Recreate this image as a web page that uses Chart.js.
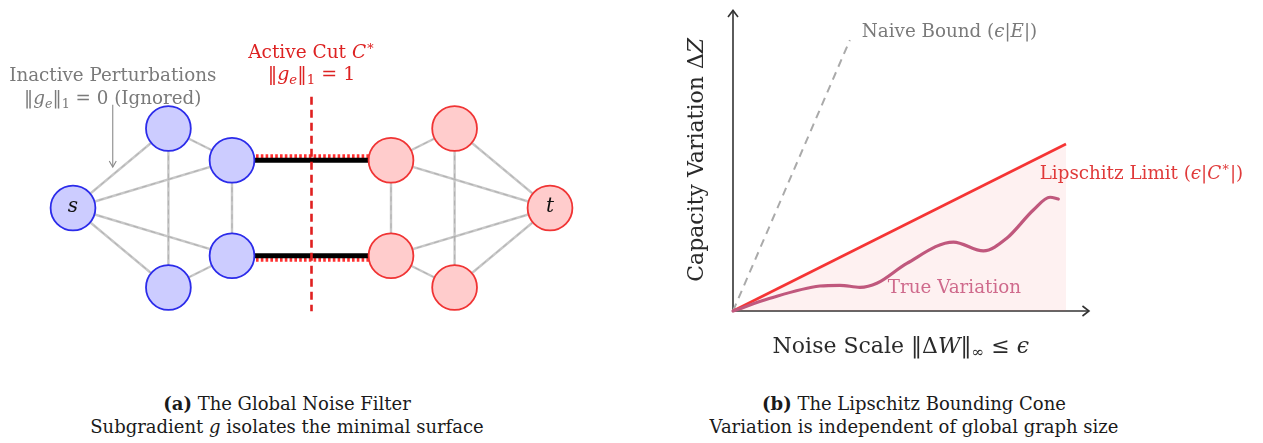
<!DOCTYPE html>
<html>
<head>
<meta charset="utf-8">
<title>Noise filter and Lipschitz cone</title>
<script src="https://cdn.jsdelivr.net/npm/chart.js@4.4.1/dist/chart.umd.min.js"></script>
<style>
  html, body { margin: 0; padding: 0; background: #fff; width: 1263px; height: 443px; overflow: hidden; }
  .panel { position: absolute; top: 0; }
  #panelA { left: 0; width: 620px; height: 380px; }
  #panelB { left: 640px; width: 623px; height: 380px; }
  .cap { position: absolute; top: 392px; font-family: "DejaVu Serif", serif; font-size: 18px;
         color: #1a1a1a; text-align: center; line-height: 23px; white-space: nowrap; }
</style>
</head>
<body>
<div class="panel" id="panelA"><canvas id="graphA" width="620" height="380"></canvas></div>
<div class="panel" id="panelB"><canvas id="coneB" width="623" height="380"></canvas></div>
<div class="cap" style="left:0; width:574px;"><b>(a)</b> The Global Noise Filter<br>Subgradient <i>g</i> isolates the minimal surface</div>
<div class="cap" style="left:614px; width:600px;"><b>(b)</b> The Lipschitz Bounding Cone<br>Variation is independent of global graph size</div>

<script>
// ---------- (a) flow network: nodes, inactive edges, cut edges ----------
const nodeIds    = ['s', 'u1', 'u2', 'l2', 'l1', 'v2', 'v1', 'w2', 'w1', 't'];
const nodeX      = [0, 2.4, 4, 4, 2.4, 8, 9.6, 8, 9.6, 12];
const nodeY      = [0, 2, 1.2, -1.2, -2, 1.2, 2, -1.2, -2, 0];
const nodeSide   = ['S', 'S', 'S', 'S', 'S', 'T', 'T', 'T', 'T', 'T'];
const nodeLabels = ['s', '', '', '', '', '', '', '', '', 't'];
const inactiveEdges = [
  ['s', 'u1'], ['s', 'u2'], ['s', 'l2'], ['s', 'l1'],
  ['u1', 'u2'], ['u1', 'l1'], ['u2', 'l2'], ['l2', 'l1'],
  ['v2', 'v1'], ['v2', 't'], ['w2', 't'], ['w2', 'w1'],
  ['v1', 't'], ['w1', 't'], ['v1', 'w1'], ['v2', 'w2']
];
const cutEdges = [['u2', 'v2'], ['l2', 'w2']];
const cutLineX = 6;
const cutLineY = [2.8, -2.6];
const arrowFrom = { x: 1.0, y: 2.6 };
const arrowTo   = { x: 1.0, y: 1.03 };

// ---------- (b) capacity variation vs noise scale ----------
const lipschitzEps = [0, 1];
const lipschitzDZ  = [0, 2];
const naiveEps     = [0, 0.351];
const naiveDZ      = [0, 3.245];
const trueEps = [0, 0.111, 0.261, 0.321, 0.381, 0.432, 0.522, 0.662, 0.752, 0.822, 0.902, 0.952, 0.977];
const trueDZ  = [0, 0.152, 0.299, 0.308, 0.284, 0.332, 0.571, 0.826, 0.719, 0.871, 1.210, 1.362, 1.341];
const axisEndEps = 1.069;
const axisEndDZ  = 3.6;

const FONT = '"DejaVu Serif", "DejaVu Sans", serif';

// text made of runs: {t, i (italic), b (bold), sub, sup}
function richWidth(ctx, runs, size) {
  let w = 0;
  runs.forEach(r => {
    const s = (r.sub || r.sup) ? size * 0.7 : size;
    ctx.font = (r.i ? 'italic ' : '') + (r.b ? 'bold ' : '') + s + 'px ' + FONT;
    w += ctx.measureText(r.t).width;
  });
  return w;
}
function drawRich(ctx, runs, x, y, size, color, align) {
  const w = richWidth(ctx, runs, size);
  let cx = align === 'left' ? x : x - w / 2;
  ctx.save();
  ctx.fillStyle = color;
  ctx.textBaseline = 'middle';
  ctx.textAlign = 'left';
  runs.forEach(r => {
    const s = (r.sub || r.sup) ? size * 0.7 : size;
    ctx.font = (r.i ? 'italic ' : '') + (r.b ? 'bold ' : '') + s + 'px ' + FONT;
    const dy = r.sub ? size * 0.28 : (r.sup ? -size * 0.36 : 0);
    ctx.fillText(r.t, cx, y + dy);
    cx += ctx.measureText(r.t).width;
  });
  ctx.restore();
}
function chevron(ctx, x, y, ang, len, half) {
  ctx.beginPath();
  ctx.moveTo(x - len * Math.cos(ang) + half * Math.sin(ang), y - len * Math.sin(ang) - half * Math.cos(ang));
  ctx.lineTo(x, y);
  ctx.lineTo(x - len * Math.cos(ang) - half * Math.sin(ang), y - len * Math.sin(ang) + half * Math.cos(ang));
  ctx.stroke();
}

// ---------- chart (a) ----------
const posOf = id => { const k = nodeIds.indexOf(id); return { x: nodeX[k], y: nodeY[k] }; };
const unitA = 39.75, originA = { px: 73, py: 208 };

const datasetsA = [];
datasetsA.push({
  label: 'nodes', order: 0,
  data: nodeIds.map((id, k) => ({ x: nodeX[k], y: nodeY[k] })),
  pointRadius: 22.4, pointHoverRadius: 22.4,
  pointBorderWidth: 1.8,
  pointBackgroundColor: nodeSide.map(s => s === 'S' ? '#ccccff' : '#ffcccc'),
  pointBorderColor: nodeSide.map(s => s === 'S' ? '#2b2bea' : '#f03434'),
  showLine: false
});
datasetsA.push({
  label: 'cut', order: 1, showLine: true, pointRadius: 0,
  data: [{ x: cutLineX, y: cutLineY[0] }, { x: cutLineX, y: cutLineY[1] }],
  borderColor: '#e02020', borderWidth: 2.6, borderDash: [8, 5]
});
datasetsA.push({
  label: 'arrow', order: 1, showLine: true, pointRadius: 0,
  data: [arrowFrom, arrowTo], borderColor: '#8a8a8a', borderWidth: 1.1
});
cutEdges.forEach((e, k) => {
  const a = posOf(e[0]), b = posOf(e[1]);
  const off = (k === 0 ? 1 : -1) * 4.2 / unitA;
  datasetsA.push({
    label: 'cut-edge', order: 2, showLine: true, pointRadius: 0,
    data: [a, b], borderColor: '#000', borderWidth: 5
  });
  datasetsA.push({
    label: 'cut-edge-mark', order: 3, showLine: true, pointRadius: 0,
    data: [{ x: a.x, y: a.y + off }, { x: b.x, y: b.y + off }],
    borderColor: '#ff3030', borderWidth: 3.6, borderDash: [2.6, 2.2]
  });
});
inactiveEdges.forEach(e => {
  const a = posOf(e[0]), b = posOf(e[1]);
  datasetsA.push({
    label: 'edge', order: 5, showLine: true, pointRadius: 0,
    data: [a, b], borderColor: '#c8c8c8', borderWidth: 2.4
  });
  datasetsA.push({
    label: 'edge-dash', order: 4, showLine: true, pointRadius: 0,
    data: [a, b], borderColor: 'rgba(150,150,150,0.55)', borderWidth: 0.9, borderDash: [5, 4]
  });
});

const annotateA = {
  id: 'annotateA',
  afterDatasetsDraw(chart) {
    const ctx = chart.ctx, xs = chart.scales.x, ys = chart.scales.y;
    const P = (x, y) => [xs.getPixelForValue(x), ys.getPixelForValue(y)];
    // node labels
    nodeIds.forEach((id, k) => {
      if (!nodeLabels[k]) return;
      const [px, py] = P(nodeX[k], nodeY[k]);
      drawRich(ctx, [{ t: nodeLabels[k], i: true }], px, py - 1, 20, '#111', 'center');
    });
    // arrow head
    ctx.save();
    ctx.strokeStyle = '#8a8a8a'; ctx.lineWidth = 1.1;
    const [ax, ay] = P(arrowTo.x, arrowTo.y);
    chevron(ctx, ax, ay, Math.PI / 2, 6, 3.5);
    ctx.restore();
    // annotations
    let [x1, y1] = P(1.0, 3.32);
    drawRich(ctx, [{ t: 'Inactive Perturbations' }], x1, y1, 18.3, '#7a7a7a', 'center');
    [x1, y1] = P(1.0, 2.73);
    drawRich(ctx, [{ t: '‖' }, { t: 'g', i: true }, { t: 'e', i: true, sub: true }, { t: '‖' }, { t: '1', sub: true },
                   { t: ' = 0 (Ignored)' }], x1, y1, 18.3, '#7a7a7a', 'center');
    [x1, y1] = P(cutLineX, 3.9);
    drawRich(ctx, [{ t: 'Active Cut ' }, { t: 'C', i: true }, { t: '∗', sup: true }], x1, y1, 18.5, '#dd2222', 'center');
    [x1, y1] = P(cutLineX, 3.34);
    drawRich(ctx, [{ t: '‖' }, { t: 'g', i: true }, { t: 'e', i: true, sub: true }, { t: '‖' }, { t: '1', sub: true },
                   { t: ' = 1' }], x1, y1, 19, '#dd2222', 'center');
  }
};

new Chart(document.getElementById('graphA'), {
  type: 'scatter',
  data: { datasets: datasetsA },
  options: {
    responsive: false, animation: false, events: [],
    layout: { padding: 0, autoPadding: false },
    plugins: { legend: { display: false }, tooltip: { enabled: false } },
    scales: {
      x: { type: 'linear', display: false, min: -originA.px / unitA, max: (620 - originA.px) / unitA },
      y: { type: 'linear', display: false, min: -(380 - originA.py) / unitA, max: originA.py / unitA }
    }
  },
  plugins: [annotateA]
});

// ---------- chart (b) ----------
const unitBx = 333, unitBy = 83.5, originB = { px: 733 - 640, py: 311 };
const xy = (xsArr, ysArr) => xsArr.map((v, k) => ({ x: v, y: ysArr[k] }));

const axesB = {
  id: 'axesB',
  beforeDatasetsDraw(chart) {
    const ctx = chart.ctx, xs = chart.scales.x, ys = chart.scales.y;
    const x0 = xs.getPixelForValue(0), y0 = ys.getPixelForValue(0);
    const xe = xs.getPixelForValue(axisEndEps), ye = ys.getPixelForValue(axisEndDZ);
    ctx.save();
    ctx.strokeStyle = '#333'; ctx.lineWidth = 1.6;
    ctx.beginPath(); ctx.moveTo(x0, y0); ctx.lineTo(xe, y0); ctx.stroke();
    ctx.beginPath(); ctx.moveTo(x0, y0); ctx.lineTo(x0, ye); ctx.stroke();
    chevron(ctx, xe, y0, 0, 6.5, 5);
    chevron(ctx, x0, ye, -Math.PI / 2, 6.5, 5);
    ctx.restore();
  },
  afterDatasetsDraw(chart) {
    const ctx = chart.ctx, xs = chart.scales.x, ys = chart.scales.y;
    const P = (x, y) => [xs.getPixelForValue(x), ys.getPixelForValue(y)];
    let [px, py] = P(0.387, 3.34);
    drawRich(ctx, [{ t: 'Naive Bound (' }, { t: 'ϵ', i: true }, { t: '|' }, { t: 'E', i: true }, { t: '|)' }],
             px, py, 18.3, '#7a7a7a', 'left');
    [px, py] = P(0.921, 1.64);
    drawRich(ctx, [{ t: 'Lipschitz Limit (' }, { t: 'ϵ', i: true }, { t: '|' }, { t: 'C', i: true }, { t: '∗', sup: true }, { t: '|)' }],
             px, py, 18.3, '#e03a3a', 'left');
    [px, py] = P(0.465, 0.275);
    drawRich(ctx, [{ t: 'True Variation' }], px, py, 18.3, '#cf6a8c', 'left');
    // x-axis title
    [px, py] = P(0.504, -0.43);
    drawRich(ctx, [{ t: 'Noise Scale ‖Δ' }, { t: 'W', i: true }, { t: '‖' }, { t: '∞', sub: true }, { t: ' ≤ ' }, { t: 'ϵ', i: true }],
             px, py, 22, '#2a2a2a', 'center');
    // y-axis title
    [px, py] = P(-0.108, 1.81);
    ctx.save();
    ctx.translate(px, py); ctx.rotate(-Math.PI / 2);
    drawRich(ctx, [{ t: 'Capacity Variation Δ' }, { t: 'Z', i: true }], 0, 0, 22, '#2a2a2a', 'center');
    ctx.restore();
  }
};

new Chart(document.getElementById('coneB'), {
  type: 'scatter',
  data: {
    datasets: [
      {
        label: 'True Variation', order: 0, showLine: true, clip: false,
        data: xy(trueEps, trueDZ), pointRadius: 0,
        borderColor: '#c0587d', borderWidth: 3.2, cubicInterpolationMode: 'monotone',
        borderCapStyle: 'round'
      },
      {
        label: 'Lipschitz Limit', order: 1, showLine: true, clip: false,
        data: xy(lipschitzEps, lipschitzDZ), pointRadius: 0,
        borderColor: '#f53535', borderWidth: 2.6,
        fill: 'origin', backgroundColor: 'rgba(235,60,60,0.07)'
      },
      {
        label: 'Naive Bound', order: 2, showLine: true, clip: false,
        data: xy(naiveEps, naiveDZ), pointRadius: 0,
        borderColor: '#aaaaaa', borderWidth: 2, borderDash: [8, 6]
      }
    ]
  },
  options: {
    responsive: false, animation: false, events: [],
    layout: { padding: 0, autoPadding: false },
    plugins: { legend: { display: false }, tooltip: { enabled: false } },
    scales: {
      x: { type: 'linear', display: false, min: -originB.px / unitBx, max: (623 - originB.px) / unitBx },
      y: { type: 'linear', display: false, min: -(380 - originB.py) / unitBy, max: originB.py / unitBy }
    }
  },
  plugins: [axesB]
});
</script>
</body>
</html>
